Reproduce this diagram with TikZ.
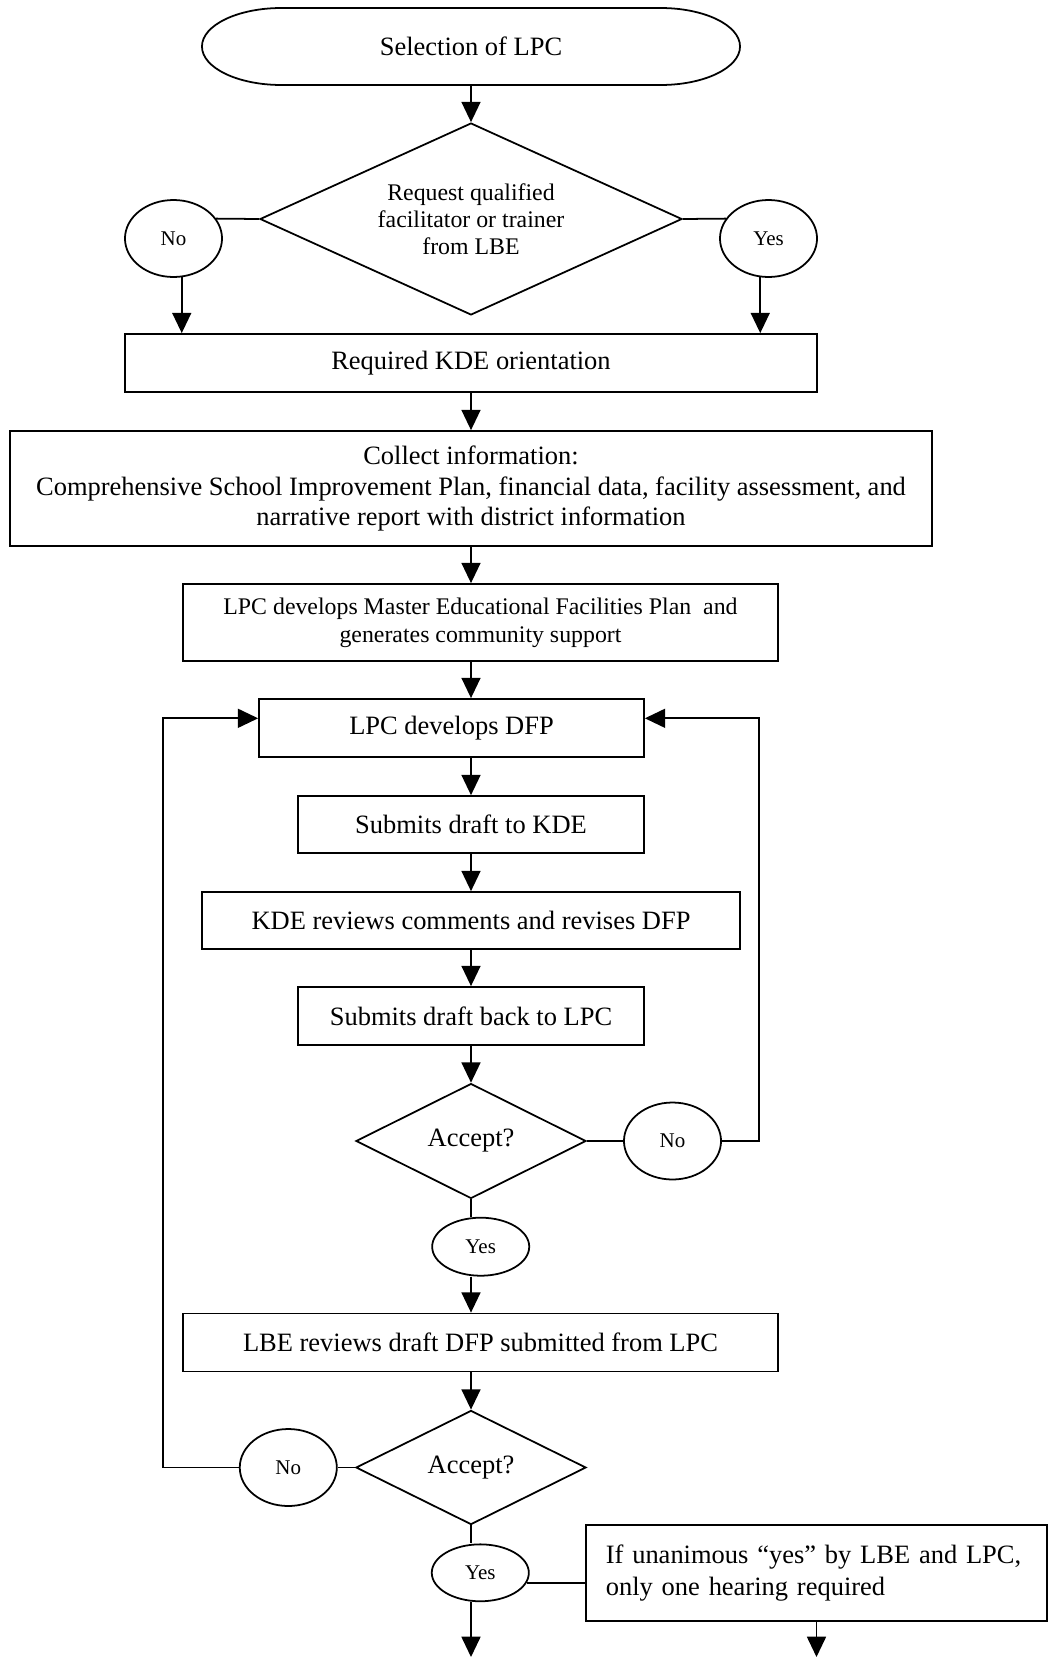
\documentclass[tikz,border=0pt]{standalone}
\usepackage{fontspec}
\setmainfont{Liberation Serif}
\usetikzlibrary{arrows.meta, shapes.geometric}
\tikzset{
    box/.style={
        rectangle,
        draw, % 黑色边框
        inner sep=0,
        align=center,
        font=\fontsize{12}{14}\selectfont
    },
    decision/.style={
        diamond,
        draw,
        aspect=2.2,
        inner sep=0,
        align=center,
        font=\fontsize{12}{14}\selectfont
    },
    answer/.style={
        ellipse,
        draw,
        minimum width=44pt,
        minimum height=34.9pt,
        inner sep=0,
        font=\fontsize{9.5}{11}\selectfont
    },
    arr/.style={
        -{Triangle[length=9.2pt,width=8.6pt]}
    }
}
\begin{document}
\begin{tikzpicture}[
                x=0.4533pt,
                y=-0.4533pt,
                line width=0.8pt
            ]
            \useasboundingbox (0,0) rectangle (1053,1657);
            % 开始
            \node[box, draw=none, outer sep=0, minimum width=243.9pt, minimum height=34.9pt] (start) at (471,46.5) {Selection of LPC};
            \draw ([xshift=36pt]start.north west) -- ([xshift=-36pt]start.north east)
                arc[start angle=90, end angle=-90, x radius=36pt, y radius=17.45pt]
                -- ([xshift=36pt]start.south west)
                arc[start angle=-90, end angle=-270, x radius=36pt, y radius=17.45pt] -- cycle;
            % 第一个判断
            \node[decision, minimum width=191.3pt, minimum height=87pt, font=\fontsize{10.8}{12.2}\selectfont] (d1) at (471,219) {Request qualified\\facilitator or trainer\\from LBE};
            \node[answer] (no1) at (173.5,238.5) {No};
            \node[answer] (yes1) at (768.5,238.5) {Yes};
            \node[box, minimum width=313.7pt, minimum height=26.3pt] (orient) at (471,363) {Required KDE orientation};
            \node[box, minimum width=418pt, minimum height=52.1pt] (collect) at (471,488.5) {Collect information:\\Comprehensive School Improvement Plan, financial data, facility assessment, and\\narrative report with district information};
            \node[box, minimum width=269.7pt, minimum height=34.9pt, font=\fontsize{10.8}{12.8}\selectfont] (master) at (480.5,622.5) {LPC develops Master Educational Facilities Plan~ and\\generates community support};
            % DFP 循环
            \node[box, minimum width=174.5pt, minimum height=26.3pt] (dfp) at (451.5,728) {LPC develops DFP};
            \node[box, minimum width=156.8pt, minimum height=25.8pt] (sub1) at (471,824.5) {Submits draft to KDE};
            \node[box, minimum width=243.9pt, minimum height=25.8pt] (rev) at (471,920.5) {KDE reviews comments and revises DFP};
            \node[box, minimum width=156.8pt, minimum height=26.3pt] (sub2) at (471,1016) {Submits draft back to LPC};
            \node[decision, aspect=2, minimum width=104.3pt, minimum height=52.1pt] (d2) at (471,1141) {Accept?};
            \node[answer] (no2) at (672.5,1141) {No};
            \node[answer, minimum height=26.3pt] (yes2) at (480.7,1246.7) {Yes};
            \node[box, minimum width=269.7pt, minimum height=26.3pt] (lbe) at (480.5,1342.5) {LBE reviews draft DFP submitted from LPC};
            \node[decision, aspect=2, minimum width=104.3pt, minimum height=51.7pt] (d3) at (471,1467.5) {Accept?};
            \node[answer] (no3) at (288.3,1467.5) {No};
            \node[answer, minimum height=25.8pt] (yes3) at (480.3,1572.8) {Yes};
            \node[box, align=left, text width=191pt, inner xsep=9pt, minimum height=43.5pt, font=\fontsize{12}{14.4}\selectfont] (note) at (816.5,1573) {If unanimous “yes” by LBE and LPC,\\only one hearing required};
            \coordinate (lloop) at (163.3,718.3);
            \coordinate (rloop) at (759,718.3);
            \coordinate (bot) at (471,1657);
            % 连线
            \draw[arr] (start.south) -- (d1.north);
            \draw (d1.west) -- (no1.25);
            \draw (d1.east) -- (yes1.155);
            \draw[arr] (no1.-78) -- (no1.-78 |- orient.north);
            \draw[arr] (yes1.-102) -- (yes1.-102 |- orient.north);
            \draw[arr] (orient.south) -- (collect.north);
            \draw[arr] (collect.south) -- (collect.south |- master.north);
            \draw[arr] (master.south -| collect.south) -- (dfp.north -| collect.south);
            \draw[arr] (dfp.south -| sub1.north) -- (sub1.north);
            \draw[arr] (sub1.south) -- (rev.north);
            \draw[arr] (rev.south) -- (sub2.north);
            \draw[arr] (sub2.south) -- (d2.north);
            \draw (d2.east) -- (no2.west);
            \draw[arr] (no2.east) -| (rloop) -- (rloop -| dfp.east);
            \draw (d2.south) -- (d2.south |- yes2.north);
            \draw[arr] (yes2.south -| d2.south) -- (lbe.north -| d2.south);
            \draw[arr] (lbe.south -| d3.north) -- (d3.north);
            \draw (d3.west) -- (no3.east);
            \draw[arr] (no3.west) -| (lloop) -- (lloop -| dfp.west);
            \draw (d3.south) -- (d3.south |- yes3.north);
            \draw (yes3.-12.6) -- (yes3.-12.6 -| note.west);
            \draw[arr] (yes3.south -| bot) -- (bot);
            \draw[arr] (note.south) -- (note.south |- bot);
\end{tikzpicture}
\end{document}
